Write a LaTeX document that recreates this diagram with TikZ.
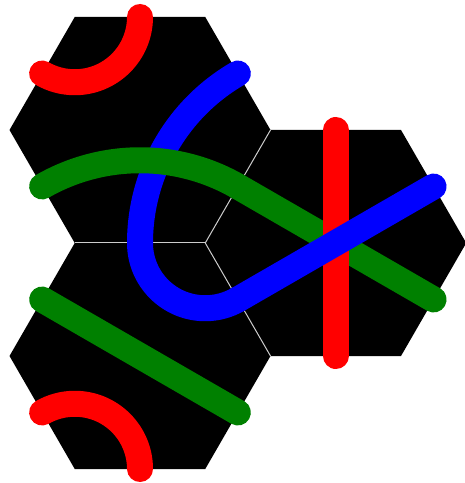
\documentclass[tikz,border=0pt]{standalone}
\usetikzlibrary{calc}
\definecolor{tgreen}{RGB}{0,128,0}
\definecolor{tred}{RGB}{255,0,0}
\definecolor{tblue}{RGB}{0,0,255}
\begin{document}
\begin{tikzpicture}[x=1pt,y=1pt,
  tile/.style={fill=black},
  seam/.style={draw=white!80!black,line width=1pt},
  strand/.style={line width=26pt,line cap=round}]
\useasboundingbox (0,0) rectangle (465,483);
\def\R{130.5pt}
\def\H{65.25pt}
\def\S{113pt}
\def\L{195.75pt}
\coordinate (A) at (140,353);
\coordinate (B) at (335.75,240);
\coordinate (C) at (140,127);
% hexagons
\foreach \c in {A,B,C}{
  \fill[tile] (\c) +(0:\R) -- +(60:\R) -- +(120:\R) -- +(180:\R) -- +(240:\R) -- +(300:\R) -- cycle;
}
% seams
\coordinate (M) at ($(C)+(60:\R)$);
\draw[seam] (M) -- ($(A)+(0:\R)$);
\draw[seam] (M) -- ($(C)+(120:\R)$);
\draw[seam] (M) -- ($(C)+(0:\R)$);
% tile A
\draw[strand,tred] ($(A)+(120:\R)+(0:\H)$) arc[start angle=0,end angle=-120,radius=\H];
\draw[strand,tblue] ($(B)+(120:\L)$) arc[start angle=120,end angle=180,radius=\L];
\draw[strand,tgreen] ($(C)+(120:\L)$) arc[start angle=120,end angle=60,radius=\L];
% tile C
\draw[strand,tblue] ($(C)+(60:\R)+(180:\H)$) arc[start angle=180,end angle=300,radius=\H];
\draw[strand,tgreen] ($(C)+(150:\S)$) -- ($(C)+(-30:\S)$);
\draw[strand,tred] ($(C)+(240:\R)+(0:\H)$) arc[start angle=0,end angle=120,radius=\H];
% tile B
\draw[strand,tgreen] ($(B)+(150:\S)$) -- ($(B)+(-30:\S)$);
\draw[strand,tred] ($(B)+(90:\S)$) -- ($(B)+(270:\S)$);
\draw[strand,tblue] ($(B)+(210:\S)$) -- ($(B)+(30:\S)$);
\end{tikzpicture}
\end{document}
